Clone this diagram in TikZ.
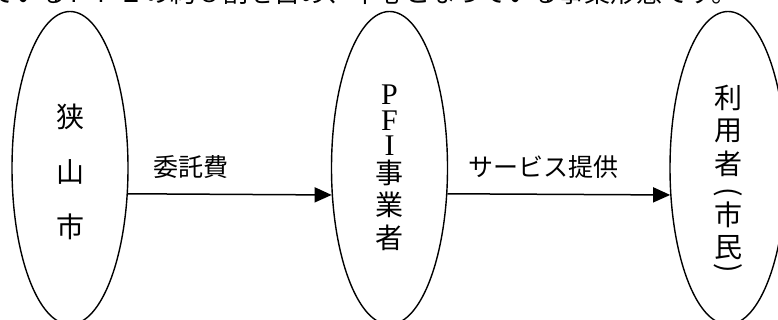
\documentclass[tikz,border=0pt]{standalone}
\usepackage{fontspec}
\newfontfamily\jp{Noto Sans CJK JP}
\newfontfamily\lat{Liberation Serif}
\usetikzlibrary{arrows.meta,shapes.geometric}
\tikzset{
  ell/.style={ellipse, draw, line width=1.4pt, minimum width=116pt, minimum height=313pt, inner sep=0pt},
  arr/.style={line width=1.5pt, -{Triangle[length=17pt, width=15pt]}},
  vt/.style={inner sep=0pt, align=center, font=\jp\fontsize{28}{30}\selectfont},
  vc/.style={inner sep=0pt, font=\jp\fontsize{28}{30}\selectfont},
  lbl/.style={inner sep=0pt, font=\jp\fontsize{25}{28}\selectfont},
  toptext/.style={inner sep=0pt, font=\jp\fontsize{26}{28}\selectfont}
}
\begin{document}
\begin{tikzpicture}[x=1pt,y=-1pt]
\useasboundingbox (0,0) rectangle (778,320);
\clip (0,0) rectangle (778,320);
\node[toptext, anchor=base east] (top) at (738,3) {されているＰＦＩの約８割を占め、中心となっている事業形態です。};
\node[ell] (city) at (70,168) {};
\node[ell] (pfi) at (389.5,168) {};
\node[ell] (user) at (728,168) {};
\node[vt] (t1) at (70,172) {狭\\[25pt]山\\[25pt]市};
\node[vt] (t2) at (389.5,168) {{\lat\fontsize{30}{32}\selectfont P}\\[-4pt]{\lat\fontsize{30}{32}\selectfont F}\\[-5pt]{\lat\fontsize{30}{32}\selectfont I}\\[-2pt]事\\[2pt]業\\[3pt]者};
\foreach \ch/\yy [count=\i] in {利/98, 用/131, 者/164, 市/215, 民/248}
  \node[vc] (u\i) at (728,\yy) {\ch};
\node[vc, rotate=-90] (lp) at (728,192) {(};
\node[vc, rotate=-90] (rp) at (728,268) {)};
\draw[arr] (city.-24.4) -- (pfi.-155.6);
\draw[arr] (pfi.-24.4) -- (user.-155.6);
\node[lbl] (l1) at (191,167) {委託費};
\node[lbl] (l2) at (543.5,167) {サービス提供};
\end{tikzpicture}
\end{document}
